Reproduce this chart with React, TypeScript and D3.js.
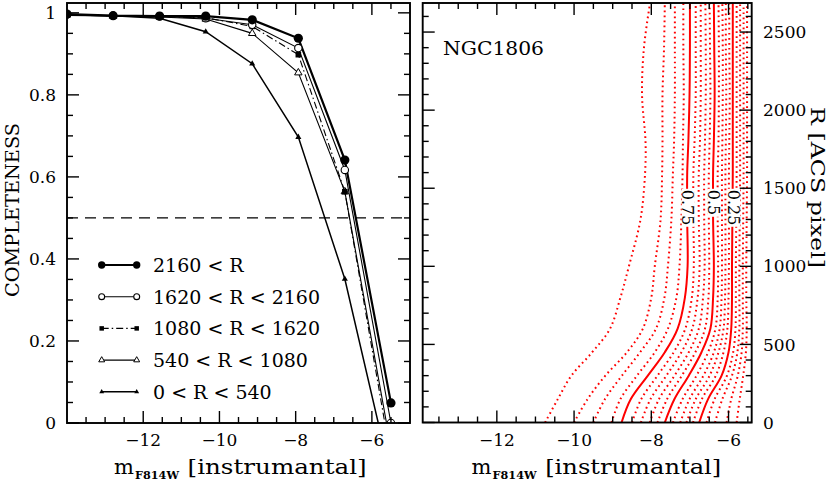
import React from "react";
import * as d3 from "d3";

// ---------- data: left panel (completeness vs magnitude, per radial bin) ----------
const MAGS = [-14.0, -12.79, -11.57, -10.36, -9.14, -7.93, -6.71, -5.5];
const C_2160 = [0.997, 0.993, 0.992, 0.992, 0.983, 0.938, 0.641, 0.049];
const C_1620 = [0.996, 0.993, 0.992, 0.987, 0.971, 0.914, 0.617, 0.0];
const C_1080 = [0.995, 0.993, 0.991, 0.988, 0.967, 0.898, 0.564, -0.086];
const C_540 = [0.995, 0.992, 0.99, 0.985, 0.95, 0.854, 0.564, -0.06];
const C_0 = [0.994, 0.993, 0.987, 0.954, 0.876, 0.697, 0.351, -0.133];
const LEGEND_LABELS = [
  "2160 < R",
  "1620 < R < 2160",
  "1080 < R < 1620",
  "540 < R < 1080",
  "0 < R < 540",
];
const HALF_LEVEL = 0.5;

// ---------- ticks ----------
const X_TICKS = [-12, -10, -8, -6];
const X_TICK_LABELS = ["\u221212", "\u221210", "\u22128", "\u22126"];
const Y_TICKS = [0, 0.2, 0.4, 0.6, 0.8, 1];
const Y_TICK_LABELS = ["0", "0.2", "0.4", "0.6", "0.8", "1"];
const R_TICKS = [0, 500, 1000, 1500, 2000, 2500];
const R_TICK_LABELS = ["0", "500", "1000", "1500", "2000", "2500"];

// ---------- data: right panel (completeness contours in mag / R plane) ----------
const R_NODES = [0, 150, 300, 450, 600, 800, 1000, 1300, 1600, 1800, 2100, 2400, 2690];
const CONTOUR_LEVELS = [0.95, 0.9, 0.85, 0.8, 0.75, 0.7, 0.65, 0.6, 0.55, 0.5, 0.45, 0.4, 0.35, 0.3, 0.25, 0.2, 0.15, 0.1, 0.05];
// magnitude of each contour level at each R node
const CONTOUR_MAGS = [
  [-10.75, -10.42, -10.07, -9.53, -9.07, -8.8, -8.58, -8.28, -8.16, -8.15, -8.24, -8.19, -8.03],
  [-10.0, -9.65, -9.19, -8.63, -8.22, -8.0, -7.91, -7.76, -7.72, -7.71, -7.71, -7.67, -7.65],
  [-9.5, -9.2, -8.76, -8.29, -7.88, -7.66, -7.57, -7.48, -7.44, -7.41, -7.39, -7.39, -7.39],
  [-9.03, -8.8, -8.37, -7.91, -7.57, -7.35, -7.27, -7.22, -7.19, -7.18, -7.16, -7.17, -7.17],
  [-8.77, -8.53, -8.09, -7.65, -7.32, -7.13, -7.06, -7.07, -7.07, -7.04, -7.01, -7.0, -7.0],
  [-8.5, -8.26, -7.84, -7.42, -7.12, -6.95, -6.9, -6.91, -6.91, -6.88, -6.85, -6.85, -6.85],
  [-8.27, -8.02, -7.61, -7.22, -6.94, -6.8, -6.75, -6.77, -6.77, -6.74, -6.72, -6.72, -6.72],
  [-8.04, -7.8, -7.4, -7.03, -6.77, -6.66, -6.62, -6.63, -6.63, -6.61, -6.59, -6.59, -6.6],
  [-7.84, -7.59, -7.21, -6.86, -6.61, -6.52, -6.5, -6.51, -6.51, -6.49, -6.47, -6.48, -6.49],
  [-7.65, -7.4, -7.03, -6.7, -6.47, -6.4, -6.38, -6.4, -6.4, -6.38, -6.36, -6.37, -6.38],
  [-7.44, -7.19, -6.83, -6.53, -6.34, -6.28, -6.27, -6.28, -6.28, -6.26, -6.25, -6.25, -6.26],
  [-7.25, -7.01, -6.65, -6.38, -6.23, -6.18, -6.17, -6.17, -6.17, -6.16, -6.15, -6.15, -6.16],
  [-7.09, -6.85, -6.49, -6.26, -6.13, -6.09, -6.08, -6.08, -6.08, -6.07, -6.06, -6.07, -6.07],
  [-6.92, -6.69, -6.33, -6.13, -6.03, -6.0, -5.99, -5.99, -5.99, -5.98, -5.97, -5.98, -5.98],
  [-6.76, -6.53, -6.18, -6.0, -5.93, -5.91, -5.91, -5.9, -5.89, -5.89, -5.89, -5.89, -5.89],
  [-6.57, -6.36, -6.04, -5.88, -5.82, -5.81, -5.81, -5.8, -5.79, -5.79, -5.79, -5.79, -5.79],
  [-6.35, -6.16, -5.91, -5.77, -5.72, -5.72, -5.72, -5.71, -5.7, -5.7, -5.7, -5.7, -5.7],
  [-6.05, -5.93, -5.76, -5.66, -5.63, -5.63, -5.63, -5.62, -5.61, -5.61, -5.61, -5.61, -5.61],
  [-5.79, -5.71, -5.62, -5.55, -5.53, -5.54, -5.54, -5.53, -5.52, -5.52, -5.52, -5.52, -5.52],
];
const LABELLED_LEVELS = [0.75, 0.5, 0.25];
const LABEL_TEXTS = ["0.75", "0.5", "0.25"];
const LABEL_R = 1490;
const CLUSTER_NAME = "NGC1806";

// ---------- layout ----------
const FONT = "'DejaVu Serif', serif";
const L = { x0: 67, x1: 410, y0: 423, y1: 3 };
const Rp = { x0: 422.7, x1: 751.7, y0: 422.5, y1: 3 };

type MarkerType = "fcircle" | "ocircle" | "fsquare" | "otri" | "ftri";

const SERIES_VALUES = [C_2160, C_1620, C_1080, C_540, C_0];
const SERIES_STYLE: { marker: MarkerType; width: number; dash?: string }[] = [
  { marker: "fcircle", width: 2.2 },
  { marker: "ocircle", width: 1.1 },
  { marker: "fsquare", width: 1.1, dash: "7 3 1.5 3" },
  { marker: "otri", width: 1.1 },
  { marker: "ftri", width: 1.5 },
];

function Marker({ type, x, y, k = 1 }: { type: MarkerType; x: number; y: number; k?: number }) {
  switch (type) {
    case "fcircle":
      return <circle cx={x} cy={y} r={4.6 * k} fill="#000" />;
    case "ocircle":
      return <circle cx={x} cy={y} r={3.7 * k} fill="#fff" stroke="#000" strokeWidth={1.1} />;
    case "fsquare":
      return <rect x={x - 2.8 * k} y={y - 2.8 * k} width={5.6 * k} height={5.6 * k} fill="#000" />;
    case "otri": {
      const p = d3.symbol(d3.symbolTriangle, 24 * k * k)() as string;
      return <path d={p} transform={`translate(${x},${y})`} fill="#fff" stroke="#000" strokeWidth={1} />;
    }
    case "ftri": {
      const p = d3.symbol(d3.symbolTriangle, 16 * k * k)() as string;
      return <path d={p} transform={`translate(${x},${y})`} fill="#000" />;
    }
  }
  return null;
}

function Ticks({
  xs, ys, box, xMajor, xMinor, yMajor, yMinor,
}: {
  xs: d3.ScaleLinear<number, number>; ys: d3.ScaleLinear<number, number>;
  box: { x0: number; x1: number; y0: number; y1: number };
  xMajor: number[]; xMinor: number[]; yMajor: number[]; yMinor: number[];
}) {
  const M = 12, m = 6;
  const out: JSX.Element[] = [];
  const addX = (v: number, len: number, key: string) => {
    const x = xs(v);
    out.push(<line key={key + "b"} x1={x} x2={x} y1={box.y0} y2={box.y0 - len} />);
    out.push(<line key={key + "t"} x1={x} x2={x} y1={box.y1} y2={box.y1 + len} />);
  };
  const addY = (v: number, len: number, key: string) => {
    const y = ys(v);
    out.push(<line key={key + "l"} x1={box.x0} x2={box.x0 + len} y1={y} y2={y} />);
    out.push(<line key={key + "r"} x1={box.x1} x2={box.x1 - len} y1={y} y2={y} />);
  };
  xMajor.forEach((v, i) => addX(v, M, "xM" + i));
  xMinor.forEach((v, i) => addX(v, m, "xm" + i));
  yMajor.forEach((v, i) => addY(v, M, "yM" + i));
  yMinor.forEach((v, i) => addY(v, m, "ym" + i));
  return (
    <g stroke="#000" strokeWidth={1.4}>
      {out}
      <rect x={box.x0} y={box.y1} width={box.x1 - box.x0} height={box.y0 - box.y1} fill="none" strokeWidth={1.9} />
    </g>
  );
}

export default function App() {
  const xL = d3.scaleLinear().domain([-14, -5]).range([L.x0, L.x1]);
  const yL = d3.scaleLinear().domain([0, 1.024]).range([L.y0, L.y1]);
  const xR = d3.scaleLinear().domain([-13.92, -5.4]).range([Rp.x0, Rp.x1]);
  const yR = d3.scaleLinear().domain([0, 2686]).range([Rp.y0, Rp.y1]);

  const isMajor = (v: number, arr: number[]) => arr.some((a) => Math.abs(a - v) < 1e-6);
  const xMinorL = d3.range(-13.5, -5.01, 0.5).filter((v) => !isMajor(v, X_TICKS));
  const xMinorR = d3.range(-13.5, -5.41, 0.5).filter((v) => !isMajor(v, X_TICKS));
  const yMinorL = d3.range(0.05, 1.02, 0.05).map((v) => Math.round(v * 100) / 100).filter((v) => !isMajor(v, Y_TICKS));
  const yMinorR = d3.range(100, 2686, 100).filter((v) => v % 500 !== 0);

  const seriesLine = d3
    .line<number>()
    .x((_, i) => xL(MAGS[i]))
    .y((d) => yL(d));

  const contourLine = d3
    .line<[number, number]>()
    .x((d) => xR(d[0]))
    .y((d) => yR(d[1]))
    .curve(d3.curveCatmullRom.alpha(0.5));

  const legendY = (i: number) => 265 + i * 31.7;

  const order = [4, 3, 2, 1, 0];

  return (
    <svg
      width={831}
      height={483}
      style={{ position: "absolute", left: 0, top: 0, background: "#fff" }}
      fontFamily={FONT}
    >
      <defs>
        <clipPath id="clipL">
          <rect x={L.x0} y={L.y1} width={L.x1 - L.x0} height={L.y0 - L.y1} />
        </clipPath>
        <clipPath id="clipR">
          <rect x={Rp.x0} y={Rp.y1} width={Rp.x1 - Rp.x0} height={Rp.y0 - Rp.y1} />
        </clipPath>
      </defs>
      <rect x={0} y={0} width={831} height={483} fill="#fff" />

      {/* ---------------- left panel ---------------- */}
      <line
        x1={L.x0}
        x2={L.x1}
        y1={yL(HALF_LEVEL)}
        y2={yL(HALF_LEVEL)}
        stroke="#000"
        strokeWidth={1.3}
        strokeDasharray="11 7"
      />
      <g clipPath="url(#clipL)">
        {order.map((si) => (
          <path
            key={"s" + si}
            d={seriesLine(SERIES_VALUES[si]) as string}
            fill="none"
            stroke="#000"
            strokeWidth={SERIES_STYLE[si].width}
            strokeDasharray={SERIES_STYLE[si].dash}
          />
        ))}
        {order.map((si) =>
          SERIES_VALUES[si].map((v, i) => (
            <Marker key={"m" + si + "-" + i} type={SERIES_STYLE[si].marker} x={xL(MAGS[i])} y={yL(v)} />
          ))
        )}
      </g>

      {/* legend */}
      {LEGEND_LABELS.map((lab, i) => {
        const y = legendY(i);
        const st = SERIES_STYLE[i];
        return (
          <g key={"lg" + i}>
            <line
              x1={101.7}
              x2={136.7}
              y1={y}
              y2={y}
              stroke="#000"
              strokeWidth={st.width}
              strokeDasharray={st.dash}
            />
            <Marker type={st.marker} x={101.7} y={y} k={0.8} />
            <Marker type={st.marker} x={136.7} y={y} k={0.8} />
            <text x={153} y={y} dy="0.36em" fontSize={19}>
              {lab}
            </text>
          </g>
        );
      })}

      <Ticks xs={xL} ys={yL} box={L} xMajor={X_TICKS} xMinor={xMinorL} yMajor={Y_TICKS} yMinor={yMinorL} />

      {Y_TICKS.map((v, i) => (
        <text key={"yl" + i} x={56} y={yL(v)} dy="0.36em" fontSize={17} textAnchor="end">
          {Y_TICK_LABELS[i]}
        </text>
      ))}
      {X_TICKS.map((v, i) => (
        <text key={"xl" + i} x={xL(v)} y={446} fontSize={17} textAnchor="middle">
          {X_TICK_LABELS[i]}
        </text>
      ))}
      <text
        transform="translate(18.5,210) rotate(-90)"
        fontSize={19}
        textAnchor="middle"
        textLength={174}
        lengthAdjust="spacingAndGlyphs"
      >
        COMPLETENESS
      </text>
      {[0, 357.6].map((dx, i) => (
        <g key={"xt" + i}>
          <text x={114 + dx} y={474} fontSize={21}>
            m
          </text>
          <text x={135 + dx} y={479} fontSize={10.5} fontWeight="bold" textLength={44} lengthAdjust="spacingAndGlyphs">
            F814W
          </text>
          <text x={187.6 + dx} y={474} fontSize={21} textLength={i === 0 ? 179 : 176} lengthAdjust="spacingAndGlyphs">
            [instrumantal]
          </text>
        </g>
      ))}

      {/* ---------------- right panel ---------------- */}
      <g clipPath="url(#clipR)" fill="none" stroke="#ff0000">
        {CONTOUR_LEVELS.map((lev, k) => {
          const solid = LABELLED_LEVELS.some((l) => Math.abs(l - lev) < 1e-6);
          const pts = R_NODES.map((r, i) => [CONTOUR_MAGS[k][i], r] as [number, number]);
          return (
            <path
              key={"c" + k}
              d={contourLine(pts) as string}
              strokeWidth={2}
              strokeDasharray={solid ? undefined : "1.7 3.3"}
            />
          );
        })}
      </g>
      {LABELLED_LEVELS.map((lev, j) => {
        const k = CONTOUR_LEVELS.findIndex((l) => Math.abs(l - lev) < 1e-6);
        const x = xR(CONTOUR_MAGS[k][8]) + 1;
        const y = yR(LABEL_R);
        const txt = LABEL_TEXTS[j];
        const w = txt.length === 4 ? 36 : 26;
        return (
          <g key={"cl" + j} transform={`translate(${x},${y}) rotate(90)`}>
            <rect x={-1} y={-6.5} width={w + 2} height={13} fill="#fff" />
            <text x={0} y={5.8} fontSize={16}>
              {txt}
            </text>
          </g>
        );
      })}

      <Ticks xs={xR} ys={yR} box={Rp} xMajor={X_TICKS} xMinor={xMinorR} yMajor={R_TICKS} yMinor={yMinorR} />

      {X_TICKS.map((v, i) => (
        <text key={"xr" + i} x={xR(v)} y={446} fontSize={17} textAnchor="middle">
          {X_TICK_LABELS[i]}
        </text>
      ))}
      {R_TICKS.map((v, i) => (
        <text key={"rl" + i} x={763} y={yR(v)} dy="0.36em" fontSize={17}>
          {R_TICK_LABELS[i]}
        </text>
      ))}
      <text
        transform="translate(811,187.5) rotate(90)"
        fontSize={19}
        textAnchor="middle"
        textLength={161}
        lengthAdjust="spacingAndGlyphs"
      >
        R [ACS pixel]
      </text>
      <text x={443} y={55} fontSize={18.5} textLength={101} lengthAdjust="spacingAndGlyphs">
        {CLUSTER_NAME}
      </text>
    </svg>
  );
}
